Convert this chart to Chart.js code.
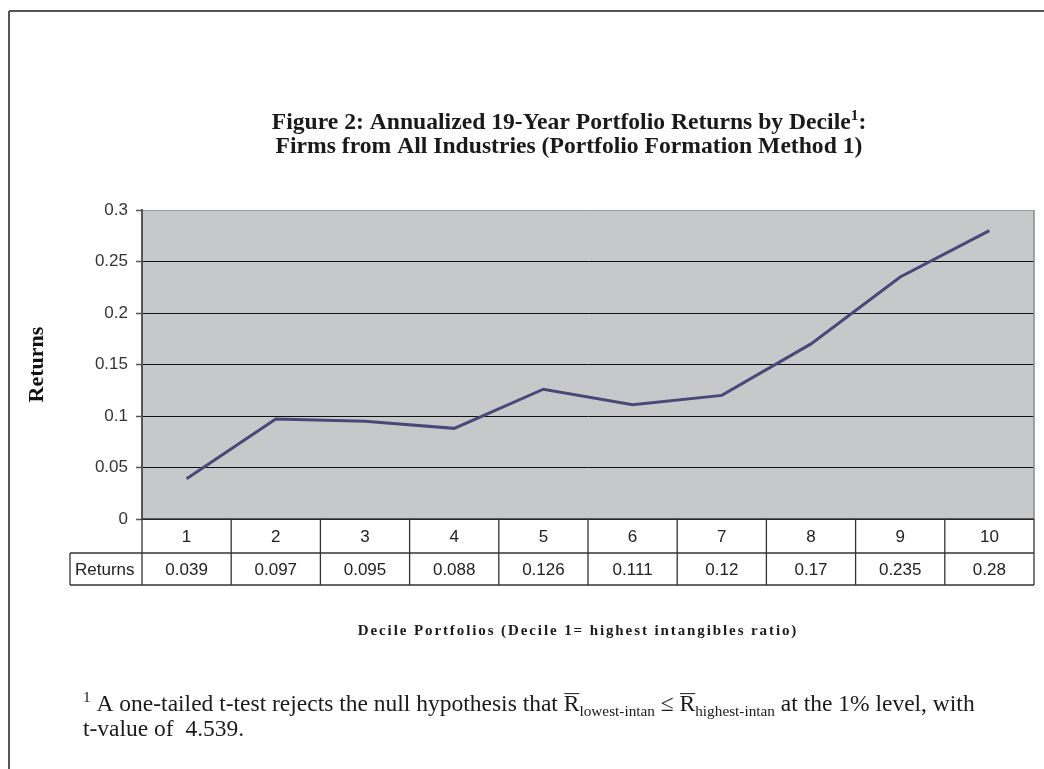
<!DOCTYPE html>
<html>
<head>
<meta charset="utf-8">
<title>Figure 2: Annualized 19-Year Portfolio Returns by Decile</title>
<script src="https://cdn.jsdelivr.net/npm/chart.js@4.4.1/dist/chart.umd.min.js"></script>
<style>
  html, body { margin: 0; padding: 0; background: #fff; }
  #chart { display: block; }
</style>
</head>
<body>
<canvas id="chart" width="1044" height="769"></canvas>
<script>
/*data*/
let deciles = ['1', '2', '3', '4', '5', '6', '7', '8', '9', '10'];
let returns = [0.039, 0.097, 0.095, 0.088, 0.126, 0.111, 0.12, 0.17, 0.235, 0.28];
let yTickLabels = ['0', '0.05', '0.1', '0.15', '0.2', '0.25', '0.3'];
let seriesName = 'Returns';
let xAxisTitle = 'Decile Portfolios (Decile 1= highest intangibles ratio)';
let titleLines = [
    [['Figure 2: Annualized 19-Year Portfolio Returns by Decile', 'n'], ['1', 'sup'], [':', 'n']],
    [['Firms from All Industries (Portfolio Formation Method 1)', 'n']]
];
let footnoteLines = [
    [['1', 'sup'], [' A one-tailed t-test rejects the null hypothesis that ', 'n'], ['R', 'bar'], ['lowest-intan', 'sub'],
     [' \u2264 ', 'n'], ['R', 'bar'], ['highest-intan', 'sub'], [' at the 1% level, with', 'n']],
    [['t-value of  4.539.', 'n']]
];
/**/

const SERIF = '"Liberation Serif", "Times New Roman", serif';
const SANS = '"Liberation Sans", Arial, sans-serif';

function runFont(kind, size, weight) {
    let s = (kind === 'sup' || kind === 'sub') ? size * 0.65 : size;
    return weight + ' ' + s + 'px ' + SERIF;
}

function runsWidth(ctx, runs, size, weight, stretch) {
    let w = 0;
    runs.forEach(r => {
        ctx.font = runFont(r[1], size, weight);
        w += ctx.measureText(r[0]).width;
    });
    return w * stretch;
}

// draws a line of text runs (normal / superscript / subscript / overlined)
function drawRuns(ctx, runs, x0, y, size, weight, stretch) {
    ctx.save();
    ctx.translate(x0, y);
    ctx.scale(stretch, 1);
    let x = 0;
    runs.forEach(r => {
        ctx.font = runFont(r[1], size, weight);
        let dy = 0;
        if (r[1] === 'sup') dy = -size * 0.38;
        if (r[1] === 'sub') dy = size * 0.22;
        ctx.fillText(r[0], x, dy);
        let w = ctx.measureText(r[0]).width;
        if (r[1] === 'bar') {
            ctx.beginPath();
            ctx.lineWidth = 1;
            ctx.moveTo(x + 0.5, -size * 0.74);
            ctx.lineTo(x + w, -size * 0.74);
            ctx.stroke();
        }
        x += w;
    });
    ctx.restore();
}

function hLine(ctx, x1, x2, y) {
    ctx.beginPath();
    ctx.moveTo(x1, y);
    ctx.lineTo(x2, y);
    ctx.stroke();
}

function vLine(ctx, x, y1, y2) {
    ctx.beginPath();
    ctx.moveTo(x, y1);
    ctx.lineTo(x, y2);
    ctx.stroke();
}

const pagePlugin = {
    id: 'page',
    beforeDraw(chart) {
        const ctx = chart.ctx;
        const a = chart.chartArea;
        ctx.save();
        ctx.fillStyle = '#ffffff';
        ctx.fillRect(0, 0, chart.width, chart.height);
        ctx.fillStyle = '#c7c8ca';
        ctx.fillRect(a.left, a.top, a.right - a.left, a.bottom - a.top);
        ctx.restore();
    },
    afterDraw(chart) {
        const ctx = chart.ctx;
        const a = chart.chartArea;
        const x = chart.scales.x;
        const step = x.getPixelForValue(1) - x.getPixelForValue(0);
        ctx.save();

        // right edge of plot area
        ctx.strokeStyle = '#8a8a8a';
        ctx.lineWidth = 1.5;
        vLine(ctx, a.right, a.top, a.bottom);

        // data table under the plot
        const top = a.bottom;
        const mid = top + 34;
        const bot = mid + 32;
        const labelLeft = 70;
        ctx.strokeStyle = '#333';
        ctx.lineWidth = 1.3;
        hLine(ctx, a.left, a.right, top);
        hLine(ctx, labelLeft, a.right, mid);
        hLine(ctx, labelLeft, a.right, bot);
        vLine(ctx, labelLeft, mid, bot);
        vLine(ctx, a.right, top, bot);
        ctx.fillStyle = '#222';
        ctx.font = '17px ' + SANS;
        ctx.textBaseline = 'middle';
        ctx.textAlign = 'center';
        deciles.forEach((d, i) => {
            const c = x.getPixelForValue(i);
            vLine(ctx, c - step / 2, top, bot);
            ctx.fillText(d, c, (top + mid) / 2 + 1);
            ctx.fillText(String(returns[i]), c, (mid + bot) / 2 + 1);
        });
        ctx.textAlign = 'left';
        ctx.fillText(seriesName, 75, (mid + bot) / 2 + 1);

        // chart title
        ctx.textBaseline = 'alphabetic';
        ctx.fillStyle = '#1a1a1a';
        ctx.strokeStyle = '#1a1a1a';
        titleLines.forEach((runs, i) => {
            const w = runsWidth(ctx, runs, 22.5, 'bold', 1.05);
            drawRuns(ctx, runs, 569 - w / 2, 128.5 + i * 24.5, 22.5, 'bold', 1.05);
        });

        // x axis title
        ctx.font = 'bold 15px ' + SERIF;
        ctx.letterSpacing = '1.9px';
        ctx.textAlign = 'center';
        ctx.fillText(xAxisTitle, 578, 635);
        ctx.letterSpacing = '0px';
        ctx.textAlign = 'left';

        // footnote
        footnoteLines.forEach((runs, i) => {
            drawRuns(ctx, runs, 83, 711 + i * 25, 23.5, 'normal', 1);
        });

        // outer frame
        ctx.strokeStyle = '#555';
        ctx.lineWidth = 2;
        hLine(ctx, 9, chart.width, 11);
        vLine(ctx, 9, 11, chart.height);
        ctx.restore();
    }
};

window.onload = function() {
    const canvas = document.getElementById('chart');
    new Chart(canvas, {
        type: 'line',
        data: {
            labels: deciles,
            datasets: [{
                label: seriesName,
                data: returns,
                borderColor: '#4b4879',
                borderWidth: 3,
                pointRadius: 0,
                tension: 0,
                fill: false
            }]
        },
        options: {
            responsive: false,
            animation: false,
            devicePixelRatio: 1,
            layout: {
                padding: { left: 0, top: 210, right: 10, bottom: 250 }
            },
            plugins: {
                legend: { display: false },
                tooltip: { enabled: false },
                title: { display: false }
            },
            scales: {
                x: {
                    type: 'category',
                    display: false,
                    offset: true
                },
                y: {
                    min: 0,
                    max: 0.3,
                    afterFit: scale => { scale.width = 142; },
                    ticks: {
                        stepSize: 0.05,
                        padding: 8,
                        color: '#333',
                        font: { family: SANS, size: 17 },
                        callback: (value, index) => yTickLabels[index]
                    },
                    grid: {
                        color: ctx => (ctx.tick && ctx.tick.value >= 0.3 - 1e-9) ? '#9a9a9a' : '#111',
                        lineWidth: 1,
                        tickColor: '#555',
                        tickLength: 6,
                        tickWidth: 1.5
                    },
                    border: { color: '#555', width: 2 },
                    title: {
                        display: true,
                        text: seriesName,
                        color: '#111',
                        font: { family: SERIF, size: 22, weight: 'bold' },
                        padding: { top: 24, bottom: 0 }
                    }
                }
            }
        },
        plugins: [pagePlugin]
    });
};
</script>
</body>
</html>
